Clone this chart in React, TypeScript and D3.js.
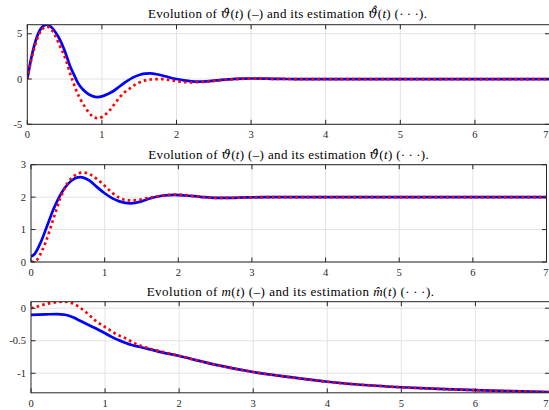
import React from "react";
import * as d3 from "d3";

// ---------- data ----------
const xTicks = [0, 1, 2, 3, 4, 5, 6, 7];

// panel 1: angular velocity and its estimation
const tVel = [0, 0.05, 0.1, 0.15, 0.2, 0.26, 0.32, 0.38, 0.44, 0.5, 0.57, 0.63, 0.68, 0.74, 0.8, 0.87, 0.94, 1.0, 1.08, 1.15, 1.24, 1.33, 1.42, 1.51, 1.58, 1.65, 1.75, 1.85, 1.93, 2.0, 2.1, 2.2, 2.3, 2.4, 2.5, 2.6, 2.7, 2.8, 2.9, 3.0, 3.2, 3.4, 3.6, 7];
const velTrue = [0, 2.2, 3.9, 5.1, 5.75, 6.0, 5.75, 5.15, 4.3, 3.15, 1.5, 0.4, -0.45, -1.1, -1.56, -1.88, -2.0, -1.92, -1.65, -1.35, -0.8, -0.27, 0.18, 0.48, 0.6, 0.62, 0.5, 0.3, 0.12, 0.0, -0.15, -0.25, -0.28, -0.25, -0.18, -0.1, -0.03, 0.02, 0.05, 0.06, 0.04, 0.01, 0, 0];
const tVelEst = [0, 0.05, 0.1, 0.15, 0.2, 0.26, 0.32, 0.38, 0.44, 0.48, 0.53, 0.57, 0.62, 0.66, 0.72, 0.77, 0.83, 0.88, 0.94, 1.0, 1.05, 1.11, 1.17, 1.24, 1.3, 1.38, 1.45, 1.51, 1.58, 1.64, 1.72, 1.8, 1.9, 2.0, 2.1, 2.18, 2.3, 2.45, 2.55, 2.67, 2.8, 2.9, 3.0, 3.2, 3.4, 3.6, 7];
const velEst = [0, 2.0, 3.6, 4.8, 5.5, 5.78, 5.5, 4.7, 3.6, 2.9, 1.8, 0.7, -0.45, -1.35, -2.35, -3.05, -3.75, -4.15, -4.33, -4.2, -3.9, -3.4, -2.75, -2.0, -1.5, -1.0, -0.6, -0.35, -0.15, -0.06, 0, 0, -0.1, -0.24, -0.33, -0.37, -0.34, -0.26, -0.17, -0.08, 0, 0.03, 0.04, 0.03, 0.01, 0, 0];
const velTicks = [-5, 0, 5];

// panel 2: angle and its estimation
const tAng = [0, 0.05, 0.1, 0.15, 0.2, 0.25, 0.3, 0.35, 0.4, 0.5, 0.6, 0.67, 0.8, 0.9, 1.0, 1.1, 1.2, 1.35, 1.5, 1.6, 1.8, 1.95, 2.1, 2.3, 2.5, 2.7, 2.9, 3.2, 7];
const angTrue = [0.17, 0.25, 0.45, 0.7, 1.0, 1.3, 1.6, 1.85, 2.08, 2.4, 2.58, 2.62, 2.5, 2.3, 2.12, 1.97, 1.87, 1.81, 1.87, 1.95, 2.05, 2.07, 2.05, 2.01, 1.98, 1.98, 1.99, 2.0, 2.0];
const tAngEst = [0, 0.08, 0.15, 0.2, 0.3, 0.4, 0.5, 0.6, 0.7, 0.82, 0.9, 1.0, 1.1, 1.2, 1.32, 1.45, 1.6, 1.8, 1.95, 2.1, 2.3, 2.5, 2.7, 2.9, 3.2, 7];
const angEst = [0, 0.07, 0.35, 0.62, 1.3, 1.98, 2.45, 2.68, 2.76, 2.68, 2.55, 2.35, 2.14, 1.98, 1.9, 1.91, 1.98, 2.05, 2.08, 2.06, 2.01, 1.98, 1.98, 1.99, 2.0, 2.0];
const angTicks = [0, 1, 2, 3];

// panel 3: m(t) and its estimation
const tM = [0, 0.2, 0.35, 0.46, 0.55, 0.64, 0.73, 0.82, 0.91, 1.0, 1.09, 1.18, 1.27, 1.36, 1.45, 1.54, 1.65, 1.81, 1.99, 2.2, 2.5, 3.0, 3.5, 4.0, 4.5, 5.0, 5.5, 6.0, 6.5, 7.0];
const mTrue = [-0.103, -0.095, -0.09, -0.1, -0.13, -0.18, -0.23, -0.28, -0.33, -0.385, -0.44, -0.49, -0.53, -0.565, -0.59, -0.615, -0.645, -0.69, -0.73, -0.79, -0.87, -0.98, -1.06, -1.13, -1.18, -1.215, -1.24, -1.26, -1.275, -1.29];
const tMEst = [0, 0.1, 0.19, 0.3, 0.44, 0.52, 0.59, 0.66, 0.73, 0.8, 0.86, 0.93, 1.0, 1.07, 1.13, 1.2, 1.27, 1.36, 1.45, 1.54, 1.63, 1.81, 1.99, 2.2, 2.5, 3.0, 3.5, 4.0, 4.5, 5.0, 5.5, 6.0, 6.5, 7.0];
const mEst = [0, 0.03, 0.06, 0.085, 0.1, 0.09, 0.06, 0.01, -0.05, -0.12, -0.18, -0.24, -0.29, -0.34, -0.385, -0.425, -0.46, -0.515, -0.565, -0.6, -0.63, -0.68, -0.73, -0.79, -0.87, -0.98, -1.06, -1.13, -1.18, -1.215, -1.24, -1.26, -1.275, -1.29];
const mTicks = [-1, -0.5, 0];

const zip = (t: number[], v: number[]) => t.map((x, i) => [x, v[i]] as [number, number]);

type Panel = {
  id: string;
  left: number; right: number; top: number; bottom: number;
  yDomain: [number, number];
  yTicks: number[];
  trueS: [number, number][];
  estS: [number, number][];
  title: React.ReactNode;
  titleY: number;
  titleX: number;
  titleW: number;
};

const SERIF = "'Liberation Serif', 'Times New Roman', serif";
const GREEK = "'DejaVu Serif', serif";

const it = (s: string, f?: string) => (
  <tspan fontStyle="italic" fontFamily={f}>{s}</tspan>
);

const panels: Panel[] = [
  {
    id: "p1", left: 27.3, right: 549.5, top: 24.7, bottom: 124.3,
    yDomain: [-5, 6], yTicks: velTicks,
    trueS: zip(tVel, velTrue), estS: zip(tVelEst, velEst), titleY: 18.3, titleX: 148, titleW: 279,
    title: (
      <>
        {"Evolution of "}{it("\u03D1\u0307", GREEK)}{"("}{it("t")}{") (\u2013) and its estimation "}
        {it("\u03D1\u0307\u0302", GREEK)}{"("}{it("t")}{") (\u00B7\u2009\u00B7\u2009\u00B7)."}
      </>
    ),
  },
  {
    id: "p2", left: 31, right: 546.5, top: 164.7, bottom: 262,
    yDomain: [0, 3], yTicks: angTicks,
    trueS: zip(tAng, angTrue), estS: zip(tAngEst, angEst), titleY: 159, titleX: 148.3, titleW: 280.5,
    title: (
      <>
        {"Evolution of "}{it("\u03D1", GREEK)}{"("}{it("t")}{") (\u2013) and its estimation "}
        {it("\u03D1\u0302", GREEK)}{"("}{it("t")}{") (\u00B7\u2009\u00B7\u2009\u00B7)."}
      </>
    ),
  },
  {
    id: "p3", left: 31, right: 549.5, top: 301.7, bottom: 392.8,
    yDomain: [-1.3, 0.1], yTicks: mTicks,
    trueS: zip(tM, mTrue), estS: zip(tMEst, mEst), titleY: 295.7, titleX: 146.7, titleW: 287.3,
    title: (
      <>
        {"Evolution of "}{it("m")}{"("}{it("t")}{") (\u2013) and its estimation "}
        {it("m\u0302")}{"("}{it("t")}{") (\u00B7\u2009\u00B7\u2009\u00B7)."}
      </>
    ),
  },
];

const AXIS = "#262626";
const GRID = "#e3e3e3";

function PanelView({ p }: { p: Panel }) {
  const x = d3.scaleLinear().domain([0, 7]).range([p.left, p.right]);
  const y = d3.scaleLinear().domain(p.yDomain).range([p.bottom, p.top]);
  const line = d3
    .line<[number, number]>()
    .x((d) => x(d[0]))
    .y((d) => y(d[1]))
    .curve(d3.curveMonotoneX);
  const tl = 4.5;
  const fmt = (v: number) => String(v);
  const last = xTicks[xTicks.length - 1];
  return (
    <g>
      <defs>
        <clipPath id={"clip-" + p.id}>
          <rect x={p.left} y={p.top} width={p.right - p.left} height={p.bottom - p.top} />
        </clipPath>
      </defs>
      <rect x={p.left} y={p.top} width={p.right - p.left} height={p.bottom - p.top} fill="#fff" />
      {/* grid */}
      {xTicks.slice(1, -1).map((t) => (
        <line key={"gx" + t} x1={x(t)} x2={x(t)} y1={p.top} y2={p.bottom} stroke={GRID} strokeWidth={1} />
      ))}
      {p.yTicks.map((t) => (
        <line key={"gy" + t} x1={p.left} x2={p.right} y1={y(t)} y2={y(t)} stroke={GRID} strokeWidth={1} />
      ))}
      {/* series */}
      <g clipPath={`url(#clip-${p.id})`}>
        <path d={line(p.trueS) || ""} fill="none" stroke="#0000ff" strokeWidth={2.7} strokeLinejoin="round" />
        <path d={line(p.estS) || ""} fill="none" stroke="#ff0000" strokeWidth={2.7} strokeDasharray="2.6 3.2" />
      </g>
      {/* box */}
      <rect x={p.left} y={p.top} width={p.right - p.left} height={p.bottom - p.top} fill="none" stroke={AXIS} strokeWidth={1} />
      {/* ticks */}
      {xTicks.map((t) => (
        <g key={"tx" + t}>
          <line x1={x(t)} x2={x(t)} y1={p.bottom} y2={p.bottom - tl} stroke={AXIS} />
          <line x1={x(t)} x2={x(t)} y1={p.top} y2={p.top + tl} stroke={AXIS} />
          <text
            x={t === last ? Math.min(x(t) + 2.5, 548.5) : x(t)}
            y={p.bottom + 14}
            textAnchor={t === last ? "end" : "middle"}
            fontFamily={SERIF}
            fontSize={10.5}
            fill={AXIS}
          >
            {fmt(t)}
          </text>
        </g>
      ))}
      {p.yTicks.map((t) => (
        <g key={"ty" + t}>
          <line x1={p.left} x2={p.left + tl} y1={y(t)} y2={y(t)} stroke={AXIS} />
          <line x1={p.right} x2={p.right - tl} y1={y(t)} y2={y(t)} stroke={AXIS} />
          <text x={p.left - 5} y={y(t) + 3.6} textAnchor="end" fontFamily={SERIF} fontSize={10.5} fill={AXIS}>
            {fmt(t)}
          </text>
        </g>
      ))}
      <text
        x={p.titleX}
        y={p.titleY}
        textLength={p.titleW}
        lengthAdjust="spacing"
        fontFamily={SERIF}
        fontSize={13}
        fill="#000"
      >
        {p.title}
      </text>
    </g>
  );
}

export default function App() {
  return (
    <svg
      width={549}
      height={410}
      style={{ position: "absolute", left: 0, top: 0, background: "#fff" }}
    >
      <rect x={0} y={0} width={549} height={410} fill="#fff" />
      {panels.map((p) => (
        <PanelView key={p.id} p={p} />
      ))}
    </svg>
  );
}
